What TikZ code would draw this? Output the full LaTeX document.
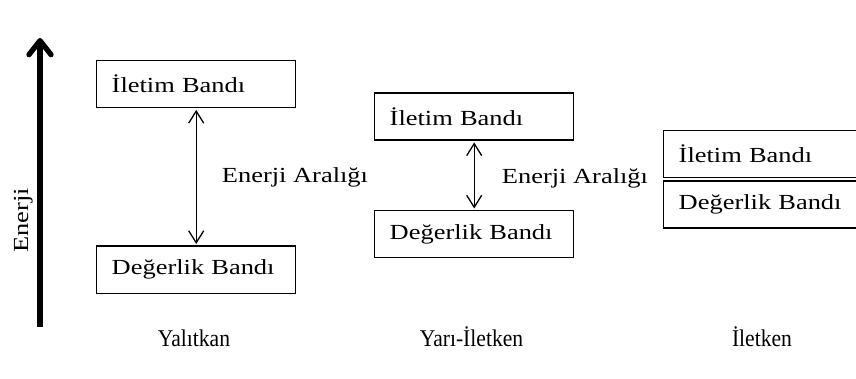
\documentclass[tikz,border=0pt]{standalone}
\usepackage{fontspec}
\setmainfont{Liberation Serif}[FakeStretch=1.23]
\newfontfamily\labelfont{Liberation Serif}[FakeStretch=0.9]
\usetikzlibrary{arrows.meta}
\begin{document}
\begin{tikzpicture}[x=1pt,y=-1pt,
  band/.style={draw, line width=1.4pt, rectangle, anchor=north west,
    minimum width=199pt, minimum height=47pt, inner xsep=15pt, inner ysep=0pt,
    text width=169pt, align=left, font=\fontsize{21.5}{24}\selectfont},
  gap/.style={line width=1.3pt, {Straight Barb[length=12pt,width=15pt]}-{Straight Barb[length=12pt,width=15pt]}, shorten <=1.5pt, shorten >=1.5pt},
  txt/.style={inner sep=0pt, font=\fontsize{21.5}{24}\selectfont},
  lbl/.style={inner sep=0pt, anchor=base, font=\labelfont\fontsize{24}{26}\selectfont}]
\useasboundingbox (0,0) rectangle (856,379);
\clip (0,0) rectangle (856,379);
% energy axis
\coordinate (ebot) at (40,327);
\coordinate (etop) at (40,38);
\draw[line width=5.3pt, -{Straight Barb[length=14pt,width=22pt,line cap=round,line join=round]}] (ebot) -- (etop);
\node[txt, rotate=90, anchor=base] (enerji) at (28,220.5) {Enerji};
% insulator
\node[band] (c1) at (96,60) {İletim Bandı};
\node[band] (v1) at (96,245.5) {Değerlik Bandı};
\draw[gap] (c1.south) -- (v1.north);
\node[txt, anchor=base west] (g1) at (221.7,182.7) {Enerji Aralığı};
\node[lbl] (l1) at (194,346) {Yalıtkan};
% semiconductor
\node[band] (c2) at (374,92.5) {İletim Bandı};
\node[band] (v2) at (374,210) {Değerlik Bandı};
\draw[gap] (c2.south) -- (v2.north);
\node[txt, anchor=base west] (g2) at (501.7,183.3) {Enerji Aralığı};
\node[lbl] (l2) at (471.5,346) {Yarı-İletken};
% conductor
\node[band] (c3) at (663,130) {İletim Bandı};
\node[band] (v3) at (663,180.5) {Değerlik Bandı};
\node[lbl] (l3) at (762,346) {İletken};
\end{tikzpicture}
\end{document}
